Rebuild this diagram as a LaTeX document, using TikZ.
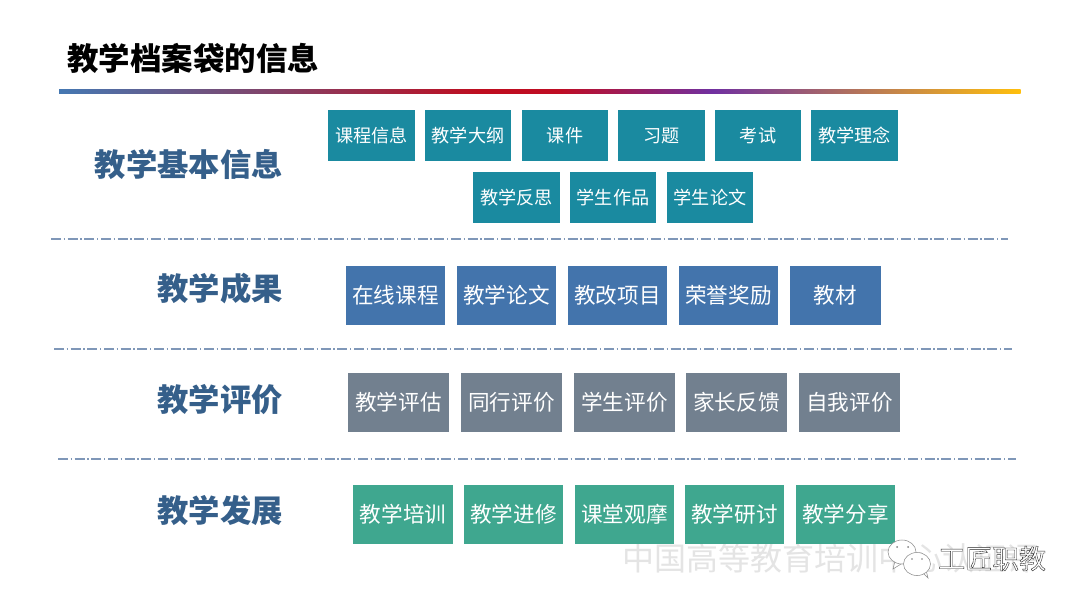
\documentclass[tikz,border=0pt]{standalone}
\usepackage{fontspec}
\setmainfont{Noto Sans CJK SC}
\usetikzlibrary{shadings}
\pgfdeclarehorizontalshading{rulegrad}{100bp}{
 rgb(0bp)=(0.27,0.47,0.70);
 rgb(25bp)=(0.27,0.47,0.70);
 rgb(47bp)=(0.75,0.05,0.12);
 rgb(51bp)=(0.75,0.05,0.14);
 rgb(59bp)=(0.44,0.19,0.63);
 rgb(75bp)=(1.0,0.75,0.05);
 rgb(100bp)=(1.0,0.75,0.05)}
\definecolor{cteal}{HTML}{1A8AA0}
\definecolor{cblue}{HTML}{4374AC}
\definecolor{cgray}{HTML}{72808F}
\definecolor{cgreen}{HTML}{3FA78F}
\definecolor{chead}{HTML}{355F8A}
\definecolor{cdash}{HTML}{7F97B8}
\definecolor{cwm}{HTML}{E4E4E4}
\tikzset{
 x=0.75pt,y=-0.75pt,
 tagbox/.style={inner sep=0pt,outer sep=0pt,text=white,anchor=center,fill=#1},
 rowhead/.style={inner sep=0pt,anchor=east,text=chead,font=\fontsize{23.5}{26}\selectfont\bfseries},
 sep/.style={cdash,line width=0.8pt,dash pattern=on 7.5pt off 2pt on 1pt off 2pt},
 sm/.style={font=\fontsize{13.6}{16}\selectfont},
 lg/.style={font=\fontsize{16.2}{18}\selectfont},
 bubble/.style={fill=white,draw=black!45,line width=0.4pt}
}
\newcommand{\tagb}[8]{% name, color, size style, x1, x2, y1, y2, text
 \node[tagbox=#2,#3,minimum width={(#5-#4)*0.75pt},minimum height={(#7-#6)*0.75pt}] (#1) at ({(#4+#5)/2},{(#6+#7)/2}) {#8};}
\begin{document}
\begin{tikzpicture}
\useasboundingbox (0,0) rectangle (1080,608);
\fill[white] (0,0) rectangle (1080,608);
% title
\node[inner sep=0pt,anchor=west,font=\fontsize{23.6}{28}\selectfont\bfseries] (title) at (67,58) {教学档案袋的信息};
\shade[shading=rulegrad] (59,89.5) rectangle (1020.5,93);
% headers
\node[rowhead] (h1) at (283,164) {教学基本信息};
\node[rowhead] (h2) at (283,288.5) {教学成果};
\node[rowhead] (h3) at (283,400) {教学评价};
\node[rowhead] (h4) at (283,511) {教学发展};
% separators
\coordinate (s1a) at (51,239); \coordinate (s1b) at (1008,239);
\coordinate (s2a) at (54,349); \coordinate (s2b) at (1012,349);
\coordinate (s3a) at (58,459); \coordinate (s3b) at (1016,459);
\draw[sep] (s1a) -- (s1b);
\draw[sep] (s2a) -- (s2b);
\draw[sep] (s3a) -- (s3b);
% row 1
\tagb{a1}{cteal}{sm}{328}{415}{110}{161}{课程信息}
\tagb{a2}{cteal}{sm}{425}{511}{110}{161}{教学大纲}
\tagb{a3}{cteal}{sm}{522}{608}{110}{161}{课件}
\tagb{a4}{cteal}{sm}{618}{705}{110}{161}{习题}
\tagb{a5}{cteal}{sm}{715}{801}{110}{161}{考试}
\tagb{a6}{cteal}{sm}{811}{898}{110}{161}{教学理念}
\tagb{b1}{cteal}{sm}{473}{560}{172}{223}{教学反思}
\tagb{b2}{cteal}{sm}{570}{656}{172}{223}{学生作品}
\tagb{b3}{cteal}{sm}{667}{753}{172}{223}{学生论文}
% row 2
\tagb{c1}{cblue}{lg}{346}{445}{266}{325}{在线课程}
\tagb{c2}{cblue}{lg}{457}{556}{266}{325}{教学论文}
\tagb{c3}{cblue}{lg}{568}{667}{266}{325}{教改项目}
\tagb{c4}{cblue}{lg}{679}{778}{266}{325}{荣誉奖励}
\tagb{c5}{cblue}{lg}{790}{881}{266}{325}{教材}
% row 3
\tagb{d1}{cgray}{lg}{348}{449}{373}{432}{教学评估}
\tagb{d2}{cgray}{lg}{461}{562}{373}{432}{同行评价}
\tagb{d3}{cgray}{lg}{574}{675}{373}{432}{学生评价}
\tagb{d4}{cgray}{lg}{686}{787}{373}{432}{家长反馈}
\tagb{d5}{cgray}{lg}{799}{900}{373}{432}{自我评价}
% watermark
\node[inner sep=0pt,anchor=west,text=cwm,font=\fontsize{24}{28}\selectfont] (wm) at (622,558) {中国高等教育培训中心认证评};
% row 4
\tagb{e1}{cgreen}{lg}{353}{453}{485}{544}{教学培训}
\tagb{e2}{cgreen}{lg}{464}{563}{485}{544}{教学进修}
\tagb{e3}{cgreen}{lg}{575}{674}{485}{544}{课堂观摩}
\tagb{e4}{cgreen}{lg}{685}{784}{485}{544}{教学研讨}
\tagb{e5}{cgreen}{lg}{796}{895}{485}{544}{教学分享}
% wechat logo
\draw[bubble] (895,561) -- (893,569) -- (901,564) -- cycle;
\draw[bubble] (902,552) ellipse (14 and 12);
\draw[bubble] (923,573) -- (928,578) -- (926,570) -- cycle;
\draw[bubble] (917,564) ellipse (13.5 and 11.5);
\fill[black!50] (897,547) circle (1) (908,547) circle (1) (912,559) circle (0.9) (922,559) circle (0.9);
% brand
\node[inner sep=0pt,anchor=west,font=\fontsize{20.2}{22}\selectfont] (brand) at (938,558.5)
 {\special{pdf:code q 2 Tr 0.28 w 0.15 G 1 g}工匠职教\special{pdf:code Q}};
\end{tikzpicture}
\end{document}
